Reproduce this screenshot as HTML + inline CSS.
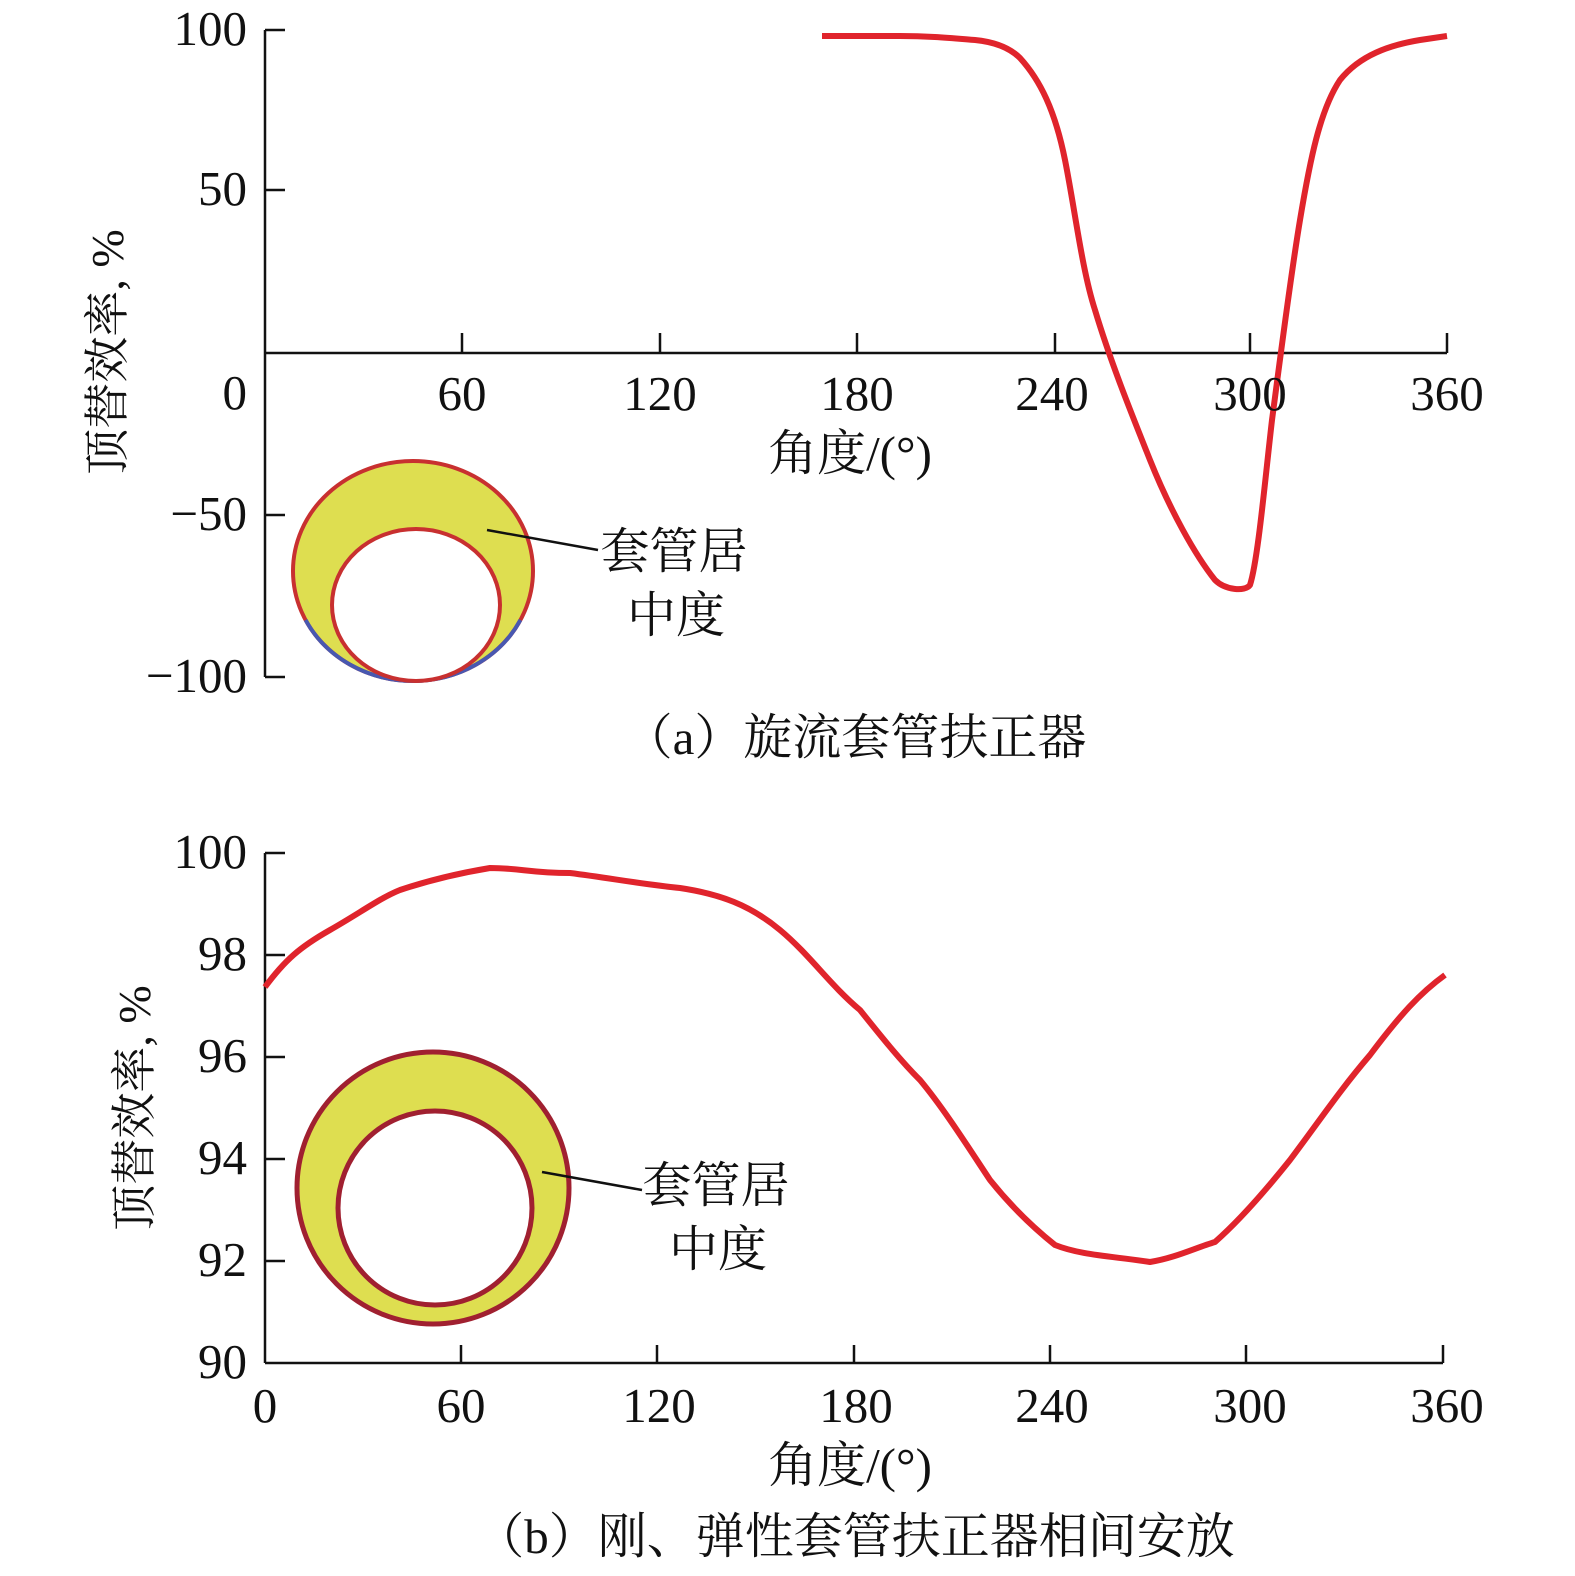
<!DOCTYPE html>
<html><head><meta charset="utf-8"><style>
html,body{margin:0;padding:0;background:#fff;overflow:hidden;width:1575px;height:1576px}
svg{display:block}
svg text{font-family:"Liberation Serif","Noto Serif CJK SC",serif;fill:#111}
</style></head><body>
<svg width="1575" height="1576" viewBox="0 0 1575 1576" xmlns="http://www.w3.org/2000/svg">
<g stroke="#111" stroke-width="2.5" fill="none">
<line x1="265" y1="30" x2="265" y2="677"/>
<line x1="265" y1="353" x2="1447" y2="353"/>
<line x1="265" y1="30" x2="285" y2="30"/><line x1="265" y1="190" x2="285" y2="190"/>
<line x1="265" y1="515" x2="285" y2="515"/><line x1="265" y1="677" x2="285" y2="677"/>
<line x1="462" y1="333" x2="462" y2="353"/><line x1="660" y1="333" x2="660" y2="353"/>
<line x1="857" y1="333" x2="857" y2="353"/><line x1="1055" y1="333" x2="1055" y2="353"/>
<line x1="1250" y1="333" x2="1250" y2="353"/><line x1="1447" y1="333" x2="1447" y2="353"/>
<line x1="265" y1="853" x2="265" y2="1363"/>
<line x1="265" y1="1363" x2="1443" y2="1363"/>
<line x1="265" y1="853" x2="285" y2="853"/><line x1="265" y1="955" x2="285" y2="955"/>
<line x1="265" y1="1057" x2="285" y2="1057"/><line x1="265" y1="1159" x2="285" y2="1159"/>
<line x1="265" y1="1261" x2="285" y2="1261"/>
<line x1="461" y1="1345" x2="461" y2="1363"/><line x1="657" y1="1345" x2="657" y2="1363"/>
<line x1="854" y1="1345" x2="854" y2="1363"/><line x1="1050" y1="1345" x2="1050" y2="1363"/>
<line x1="1246" y1="1345" x2="1246" y2="1363"/><line x1="1443" y1="1345" x2="1443" y2="1363"/>
</g>
<ellipse cx="413" cy="571" rx="120" ry="110" fill="#dede50" stroke="#c83030" stroke-width="4"/>
<path d="M305.6,620 A120,110 0 0 0 520.4,620" fill="none" stroke="#4858b0" stroke-width="4"/>
<ellipse cx="416" cy="605" rx="84" ry="76" fill="#fff" stroke="#c83030" stroke-width="4"/>
<circle cx="433" cy="1188" r="136" fill="#dede50" stroke="#a02030" stroke-width="5"/>
<circle cx="435" cy="1208" r="97" fill="#fff" stroke="#a02030" stroke-width="5"/>
<g stroke="#111" stroke-width="2.5">
<line x1="487" y1="530" x2="598" y2="550"/>
<line x1="542" y1="1172" x2="642" y2="1190"/>
</g>
<path fill="none" stroke="#e0242c" stroke-width="6" stroke-linejoin="round" d="M822,36 L900,36 C930,36 950,38 975,40 C995,42 1010,48 1020,58 C1040,80 1055,110 1065,160 C1075,210 1082,270 1095,310 C1110,360 1130,410 1150,460 C1170,510 1195,555 1215,580 C1225,590 1245,592 1250,585 C1258,560 1265,480 1272,420 C1280,360 1290,280 1300,220 C1310,160 1320,110 1340,80 C1360,55 1390,45 1420,40 L1447,36"/>
<path fill="none" stroke="#e0242c" stroke-width="6" stroke-linejoin="round" d="M265,987 C285,960 300,947 330,930 C360,913 380,898 400,890 C430,880 460,873 490,868 C520,868 530,873 570,873 C610,878 640,884 680,888 C720,894 750,905 780,930 C810,955 830,985 860,1010 C880,1035 900,1060 920,1080 C945,1110 970,1150 990,1180 C1010,1205 1030,1225 1055,1245 C1080,1255 1110,1256 1150,1262 C1175,1258 1195,1248 1215,1242 C1240,1220 1270,1185 1290,1160 C1320,1120 1340,1090 1370,1055 C1400,1015 1420,993 1445,975"/>
<g font-size="49" text-anchor="end">
<text x="247" y="45">100</text><text x="247" y="205">50</text><text x="247" y="409">0</text>
<text x="247" y="530">−50</text><text x="247" y="692">−100</text>
<text x="247" y="868">100</text><text x="247" y="970">98</text><text x="247" y="1072">96</text>
<text x="247" y="1174">94</text><text x="247" y="1276">92</text><text x="247" y="1378">90</text>
</g>
<g font-size="49" text-anchor="middle">
<text x="462" y="410">60</text><text x="660" y="410">120</text><text x="857" y="410">180</text>
<text x="1052" y="410">240</text><text x="1250" y="410">300</text><text x="1447" y="410">360</text>
<text x="265" y="1422">0</text><text x="461" y="1422">60</text><text x="659" y="1422">120</text><text x="856" y="1422">180</text>
<text x="1052" y="1422">240</text><text x="1250" y="1422">300</text><text x="1447" y="1422">360</text>
<text x="850" y="470">角度/(°)</text>
<text x="850" y="1482">角度/(°)</text>
<text x="855" y="754">（a）旋流套管扶正器</text>
<text x="855" y="1553">（b）刚、弹性套管扶正器相间安放</text>
<text x="674" y="568">套管居</text><text x="676" y="632">中度</text>
<text x="716" y="1202">套管居</text><text x="718" y="1266">中度</text>
</g>
<text font-size="46" text-anchor="middle" transform="translate(123,352) rotate(-90)">顶替效率, %</text>
<text font-size="46" text-anchor="middle" transform="translate(150,1108) rotate(-90)">顶替效率, %</text>
</svg>
</body></html>
